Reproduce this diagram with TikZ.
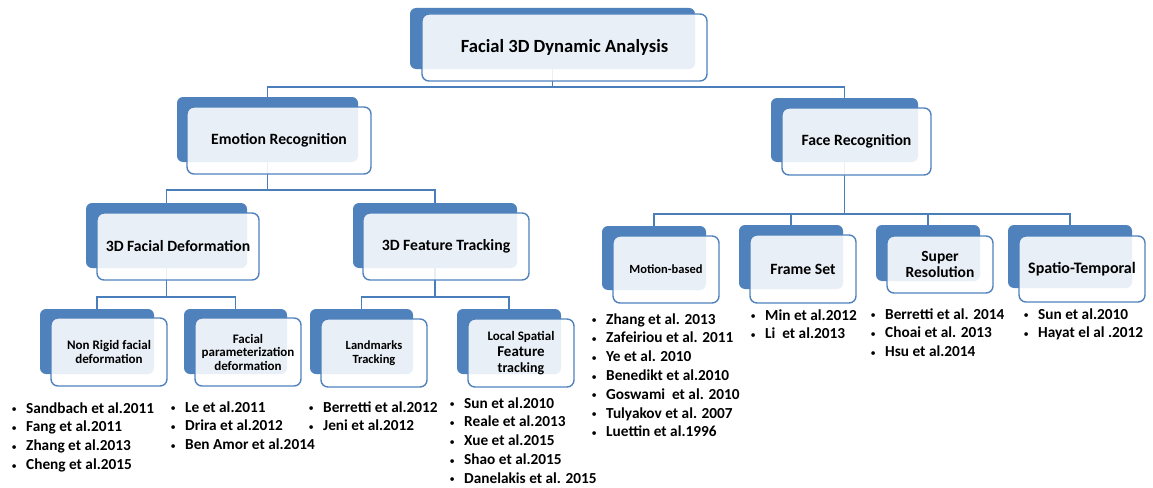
\documentclass[tikz,border=0pt]{standalone}
\usepackage{fontspec}
\setmainfont{Carlito}
\definecolor{dkblue}{HTML}{4F81BD}
\definecolor{lnblue}{HTML}{4A7EBB}
\pgfdeclarelayer{bg}
\pgfsetlayers{bg,main}
\newcommand{\blt}{\makebox[14.5pt][l]{\raisebox{0.3pt}{\mdseries\fontsize{10.5}{10.5}\selectfont\textbullet}}}
\tikzset{
  darkbox/.style={fill=dkblue, rounded corners=6pt, inner sep=0pt},
  frontbox/.style={draw=dkblue, line width=1.4pt, fill=white, fill opacity=0.88, text opacity=1,
    rounded corners=7pt, inner sep=0pt, align=center, text=black},
  conn/.style={draw=lnblue, line width=1.5pt},
  reflist/.style={anchor=base west, align=left, inner sep=0pt,
    font=\fontsize{15.3}{18.8}\selectfont\bfseries},
  big/.style={font=\fontsize{18.6}{22}\selectfont\bfseries},
  mid/.style={font=\fontsize{15.7}{19}\selectfont\bfseries},
}
\begin{document}
\begin{tikzpicture}[x=1pt,y=-1pt]
\useasboundingbox (0,0) rectangle (1153,487);

% level 0
\node[darkbox, minimum width=285pt, minimum height=61pt] (topD) at (552.5,38.5) {};
\node[frontbox, big, minimum width=285pt, minimum height=67pt] (topF) at (564.5,47.5) {Facial 3D Dynamic Analysis};

% level 1
\node[darkbox, minimum width=181pt, minimum height=65pt] (emoD) at (267.5,129.5) {};
\node[frontbox, mid, minimum width=184pt, minimum height=67pt] (emoF) at (279,140.5) {Emotion Recognition};
\node[darkbox, minimum width=147pt, minimum height=64pt] (faceD) at (844.5,130) {};
\node[frontbox, mid, minimum width=149pt, minimum height=67pt] (faceF) at (856.5,141.5) {Face Recognition};

% level 2 (emotion)
\node[darkbox, minimum width=161pt, minimum height=65pt] (fdD) at (166.5,235.5) {};
\node[frontbox, mid, minimum width=162pt, minimum height=67pt] (fdF) at (178,246.5) {3D Facial Deformation};
\node[darkbox, minimum width=164pt, minimum height=65pt] (ftD) at (435,235.5) {};
\node[frontbox, mid, minimum width=166pt, minimum height=67pt] (ftF) at (446,246.5) {3D Feature Tracking};

% level 3 (emotion)
\node[darkbox, minimum width=114pt, minimum height=65pt] (nrD) at (97,341.5) {};
\node[frontbox, font=\fontsize{13}{14}\selectfont\bfseries, minimum width=116pt, minimum height=68pt] (nrF) at (109,352) {Non Rigid facial\\deformation};
\node[darkbox, minimum width=103pt, minimum height=65pt] (fpD) at (235.5,341.5) {};
\node[frontbox, font=\fontsize{13}{13.5}\selectfont\bfseries, minimum width=106pt, minimum height=68pt] (fpF) at (248,352) {Facial\\parameterization\\deformation};
\node[darkbox, minimum width=103pt, minimum height=65pt] (lmD) at (361.5,341.5) {};
\node[frontbox, font=\fontsize{12.5}{14}\selectfont\bfseries, minimum width=106pt, minimum height=68pt] (lmF) at (374,353) {Landmarks\\Tracking};
\node[darkbox, minimum width=104pt, minimum height=65pt] (lsD) at (509,341.5) {};
\node[frontbox, font=\bfseries, minimum width=106pt, minimum height=68pt] (lsF) at (521,353)
  {\fontsize{13}{16}\selectfont Local Spatial\\[4pt]\fontsize{15}{16.5}\selectfont Feature\\[4pt]\fontsize{14}{16.5}\selectfont tracking};

% level 2 (face)
\node[darkbox, minimum width=104pt, minimum height=64pt] (mbD) at (654,258) {};
\node[frontbox, font=\fontsize{12.5}{14}\selectfont\bfseries, minimum width=106pt, minimum height=67pt] (mbF) at (666,269.5) {Motion-based};
\node[darkbox, minimum width=104pt, minimum height=64pt] (fsD) at (791,257) {};
\node[frontbox, mid, minimum width=106pt, minimum height=68pt] (fsF) at (803,269) {Frame Set};
\node[darkbox, minimum width=104pt, minimum height=56pt] (srD) at (928,253) {};
\node[frontbox, font=\fontsize{15.5}{16.5}\selectfont\bfseries, minimum width=106pt, minimum height=57pt] (srF) at (940,264.5) {Super\\Resolution};
\node[darkbox, minimum width=124pt, minimum height=63pt] (stD) at (1070,256.5) {};
\node[frontbox, font=\fontsize{16}{17}\selectfont\bfseries, minimum width=126pt, minimum height=66pt] (stF) at (1082,269) {Spatio-Temporal};

% connectors
\coordinate (j1) at (552.5,87);
\coordinate (j2) at (267.5,190);
\coordinate (j3) at (844.5,214);
\coordinate (j4) at (166.5,297);
\coordinate (j5) at (435,297);
\begin{pgfonlayer}{bg}
\draw[conn] (topD.center) -- (j1) -| (emoD.center);
\draw[conn] (j1) -| (faceD.center);
\draw[conn] (emoD.center) -- (j2) -| (fdD.center);
\draw[conn] (j2) -| (ftD.center);
\draw[conn] (faceD.center) -- (j3) -| (mbD.center);
\draw[conn] (j3) -| (fsD.center);
\draw[conn] (j3) -| (srD.center);
\draw[conn] (j3) -| (stD.center);
\draw[conn] (fdD.center) -- (j4) -| (nrD.center);
\draw[conn] (j4) -| (fpD.center);
\draw[conn] (ftD.center) -- (j5) -| (lmD.center);
\draw[conn] (j5) -| (lsD.center);
\end{pgfonlayer}

% reference lists (anchor = baseline of the last line)
\node[reflist] (nrL) at (11.5,469.4) {\blt Sandbach et al.2011\\\blt Fang et al.2011\\\blt Zhang et al.2013\\\blt Cheng et al.2015};
\node[reflist] (fpL) at (170.5,449.6) {\blt Le et al.2011\\\blt Drira et al.2012\\\blt Ben Amor et al.2014};
\node[reflist] (lmL) at (308.5,430.8) {\blt Berretti et al.2012\\\blt Jeni et al.2012};
\node[reflist] (lsL) at (449.5,483.2) {\blt Sun et al.2010\\\blt Reale et al.2013\\\blt Xue et al.2015\\\blt Shao et al.2015\\\blt Danelakis et al. 2015};
\node[reflist] (mbL) at (591.5,436.8) {\blt Zhang et al. 2013\\\blt Zafeiriou et al. 2011\\\blt Ye et al. 2010\\\blt Benedikt et al.2010\\\blt Goswami\ \ et al. 2010\\\blt Tulyakov et al. 2007\\\blt Luettin et al.1996};
\node[reflist] (fsL) at (750.5,338.8) {\blt Min et al.2012\\\blt Li\ \ et al.2013};
\node[reflist] (srL) at (870.5,356.6) {\blt Berretti et al. 2014\\\blt Choai et al. 2013\\\blt Hsu et al.2014};
\node[reflist] (stL) at (1023.5,337.8) {\blt Sun et al.2010\\\blt Hayat el al .2012};
\end{tikzpicture}
\end{document}
